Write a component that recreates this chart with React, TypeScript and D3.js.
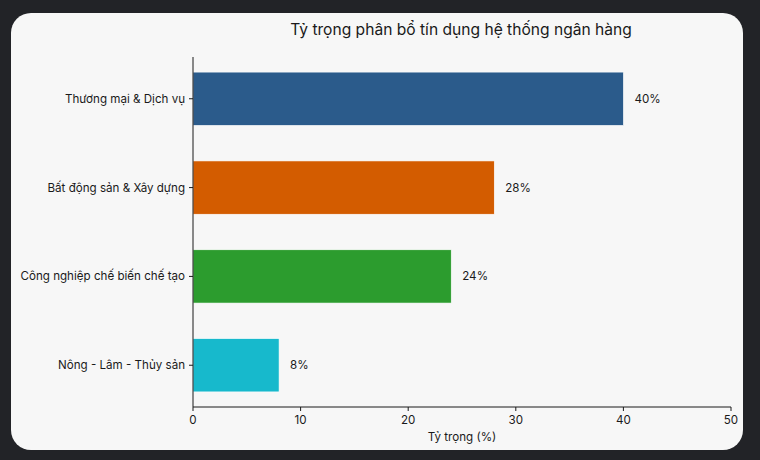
import React from "react";
import { scaleBand, scaleLinear } from "d3";

const categories = [
  "Thương mại & Dịch vụ",
  "Bất động sản & Xây dựng",
  "Công nghiệp chế biến chế tạo",
  "Nông - Lâm - Thủy sản",
];
const shares = [40, 28, 24, 8];
const barColors = ["#2b5b8b", "#d35c00", "#2c9c2e", "#17b9cc"];
const xTicks = [0, 10, 20, 30, 40, 50];

const W = 760;
const H = 460;
const margin = { top: 57, right: 29, bottom: 53, left: 193 };
const font = "'Inter', 'Noto Sans', sans-serif";
const fs = 11.6;

const App: React.FC = () => {
  const innerW = W - margin.left - margin.right;
  const innerH = H - margin.top - margin.bottom;

  const x = scaleLinear().domain([0, 50]).range([0, innerW]);
  const y = scaleBand<string>()
    .domain(categories)
    .range([0, innerH])
    .paddingInner(0.4)
    .paddingOuter(0.17);

  return (
    <div
      style={{
        position: "fixed",
        left: 0,
        top: 0,
        width: W,
        height: H,
        background: "#222327",
      }}
    >
      <svg width={W} height={H} style={{ display: "block", fontFamily: font }}>
        <rect x={11} y={13} width={732} height={437} rx={20} fill="#f7f7f7" />
        <text
          x={461}
          y={35}
          textAnchor="middle"
          fontSize={15.6}
          fill="#1a1a1a"
        >
          Tỷ trọng phân bổ tín dụng hệ thống ngân hàng
        </text>
        <g transform={`translate(${margin.left},${margin.top})`}>
          {categories.map((c, i) => {
            const cy = (y(c) ?? 0) + y.bandwidth() / 2;
            return (
              <g key={c}>
                <rect
                  x={0}
                  y={y(c)}
                  width={x(shares[i])}
                  height={y.bandwidth()}
                  fill={barColors[i]}
                  stroke="#ffffff"
                  strokeWidth={0.6}
                />
                <text
                  x={x(shares[i]) + 11}
                  y={cy}
                  dy="0.35em"
                  fontSize={fs}
                  fill="#1a1a1a"
                >
                  {shares[i]}%
                </text>
                <line x1={-4} x2={0} y1={cy} y2={cy} stroke="#1a1a1a" />
                <text
                  x={-8}
                  y={cy}
                  dy="0.35em"
                  textAnchor="end"
                  fontSize={fs}
                  fill="#1a1a1a"
                >
                  {c}
                </text>
              </g>
            );
          })}
          <line x1={0} x2={0} y1={0} y2={innerH} stroke="#1a1a1a" />
          <line x1={0} x2={innerW} y1={innerH} y2={innerH} stroke="#1a1a1a" />
          {xTicks.map((t) => (
            <g key={t} transform={`translate(${x(t)},${innerH})`}>
              <line y1={0} y2={4} stroke="#1a1a1a" />
              <text y={17} textAnchor="middle" fontSize={fs} fill="#1a1a1a">
                {t}
              </text>
            </g>
          ))}
          <text
            x={innerW / 2}
            y={innerH + 34}
            textAnchor="middle"
            fontSize={fs}
            fill="#1a1a1a"
          >
            Tỷ trọng (%)
          </text>
        </g>
      </svg>
    </div>
  );
};

export default App;
